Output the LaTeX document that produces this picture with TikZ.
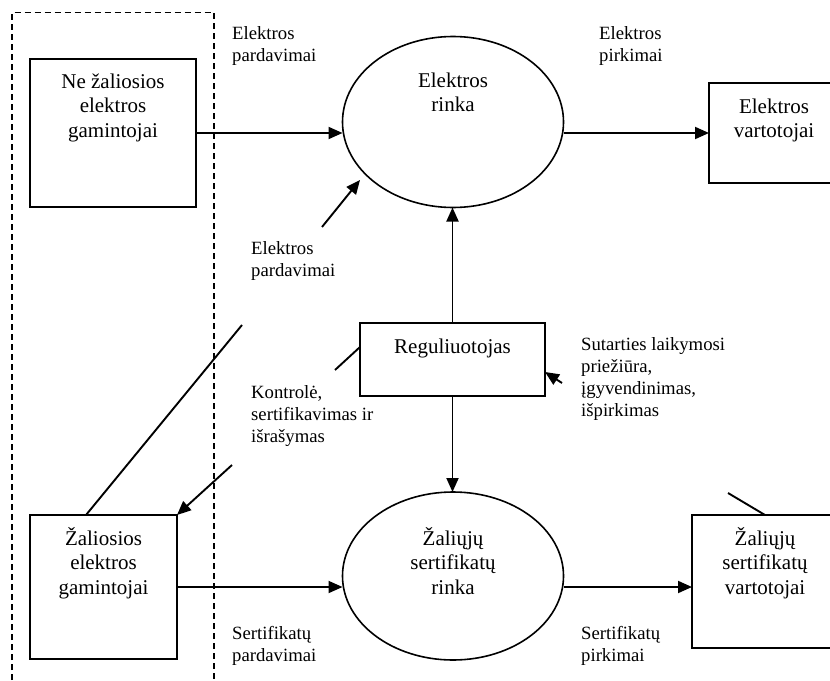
\documentclass[tikz,border=0pt]{standalone}
\usepackage{fontspec}
\setmainfont{Liberation Serif}
\usetikzlibrary{arrows.meta,shapes.geometric}
\newcommand\boxfont{\fontsize{21bp}{24.5bp}\selectfont}
\newcommand\lblfont{\fontsize{18.7bp}{22bp}\selectfont}
\newcommand\bstrut{\rule{0pt}{20bp}}
\newcommand\lstrut{\rule{0pt}{15bp}}
\begin{document}
\begin{tikzpicture}[x=1bp,y=-1bp,
  boxshape/.style={draw, line width=1.7bp, rectangle, inner sep=0pt, outer sep=0pt},
  ellshape/.style={draw, line width=1.6bp, ellipse, inner sep=0pt, outer sep=0pt},
  boxtext/.style={font=\boxfont, align=center, anchor=north, inner sep=0pt},
  lbl/.style={font=\lblfont, align=left, anchor=north west, inner sep=0pt},
  arr/.style={line width=1.9bp, -{Triangle[length=14bp,width=12bp]}},
  plain/.style={line width=1.9bp},
  frame/.style={line width=1.4bp, dash pattern=on 6bp off 4bp}
]
\clip (0,0) rectangle (830,681);
\fill[white] (0,0) rectangle (830,681);

% dashed frame
\draw[frame] (12,690) -- (12,12.5) -- (214,12.5) -- (214,690);

% shapes
\node[boxshape, minimum width=166bp, minimum height=148bp] (ne) at (113,133) {};
\node[ellshape, minimum width=221bp, minimum height=171bp] (er) at (453,122) {};
\node[boxshape, minimum width=130bp, minimum height=100bp] (ev) at (774,133) {};
\node[boxshape, minimum width=185bp, minimum height=73bp] (reg) at (452.5,359.5) {};
\node[boxshape, minimum width=147bp, minimum height=144bp] (zg) at (103.5,587) {};
\node[ellshape, minimum width=221bp, minimum height=168bp] (zr) at (453,576) {};
\node[boxshape, minimum width=146bp, minimum height=133bp] (zv) at (765,581.5) {};

% texts in shapes
\node[boxtext] (ne-t) at (113,68) {\bstrut Ne žaliosios\\elektros\\gamintojai};
\node[boxtext] (er-t) at (453,67) {\bstrut Elektros\\rinka};
\node[boxtext] (ev-t) at (774,93) {\bstrut Elektros\\vartotojai};
\node[boxtext] (reg-t) at (452.5,333) {\bstrut Reguliuotojas};
\node[boxtext] (zg-t) at (103.5,525) {\bstrut Žaliosios\\elektros\\gamintojai};
\node[boxtext] (zr-t) at (453,525) {\bstrut Žaliųjų\\sertifikatų\\rinka};
\node[boxtext] (zv-t) at (765,525) {\bstrut Žaliųjų\\sertifikatų\\vartotojai};

% labels
\node[lbl] (l1) at (232,24) {\lstrut Elektros\\pardavimai};
\node[lbl] (l2) at (599,24) {\lstrut Elektros\\pirkimai};
\node[lbl] (l3) at (251,239) {\lstrut Elektros\\pardavimai};
\node[lbl] (l4) at (251,383) {\lstrut Kontrolė,\\sertifikavimas ir\\išrašymas};
\node[lbl] (l5) at (581,335) {\lstrut Sutarties laikymosi\\priežiūra,\\įgyvendinimas,\\išpirkimas};
\node[lbl] (l6) at (232,624) {\lstrut Sertifikatų\\pardavimai};
\node[lbl] (l7) at (581,624) {\lstrut Sertifikatų\\pirkimai};

% free ends
\coordinate (a1s) at (322,227);
\coordinate (a1e) at (360,180);
\coordinate (d1s) at (86,515);
\coordinate (d1e) at (242,325);
\coordinate (d2s) at (335,370);
\coordinate (d2e) at (360,347);
\coordinate (a2s) at (232,465);
\coordinate (a3s) at (562,383);
\coordinate (a3e) at (545,372);
\coordinate (d3s) at (728,493);

% connectors
\draw[arr] (ne.east) -- (ne.east -| er.west);
\draw[arr] (ev.west -| er.east) -- (ev.west);
\draw[arr] (reg.north) -- (reg.north |- er.south);
\draw[arr] (reg.south) -- (reg.south |- zr.north);
\draw[arr] (zg.east) -- (zg.east -| zr.west);
\draw[arr] (zr.east |- zg.east) -- (zv.west |- zg.east);
\draw[arr] (a1s) -- (a1e);
\draw[plain] (d1s) -- (d1e);
\draw[plain] (d2s) -- (d2e);
\draw[arr] (a2s) -- (zg.north east);
\draw[arr] (a3s) -- (a3e);
\draw[plain] (d3s) -- (zv.north);
\end{tikzpicture}
\end{document}
